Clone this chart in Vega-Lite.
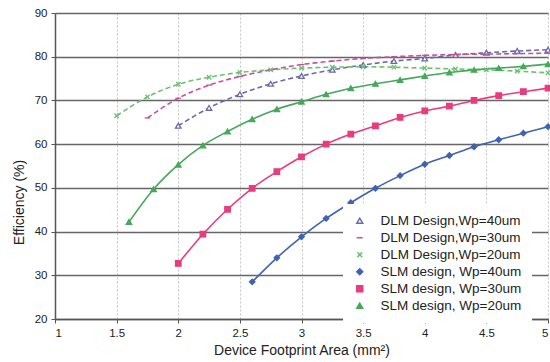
{
  "$schema": "https://vega.github.io/schema/vega-lite/v6.json",
  "width": 493,
  "height": 306,
  "autosize": {"type": "none"},
  "padding": {"left": 55, "top": 13, "right": 2, "bottom": 43},
  "background": "white",
  "config": {
    "font": "Liberation Sans",
    "view": {"stroke": null},
    "axis": {"labelFont": "Liberation Sans", "titleFont": "Liberation Sans", "labelColor": "#222", "titleColor": "#222"}
  },
  "data": {
    "values": [
      {"series": "DLM Design,Wp=40um", "design": "DLM", "x": 2.0, "y": 64.2},
      {"series": "DLM Design,Wp=40um", "design": "DLM", "x": 2.25, "y": 68.3},
      {"series": "DLM Design,Wp=40um", "design": "DLM", "x": 2.5, "y": 71.4},
      {"series": "DLM Design,Wp=40um", "design": "DLM", "x": 2.75, "y": 73.8},
      {"series": "DLM Design,Wp=40um", "design": "DLM", "x": 3.0, "y": 75.6},
      {"series": "DLM Design,Wp=40um", "design": "DLM", "x": 3.25, "y": 77.0},
      {"series": "DLM Design,Wp=40um", "design": "DLM", "x": 3.5, "y": 78.1},
      {"series": "DLM Design,Wp=40um", "design": "DLM", "x": 3.75, "y": 79.0},
      {"series": "DLM Design,Wp=40um", "design": "DLM", "x": 4.0, "y": 79.6},
      {"series": "DLM Design,Wp=40um", "design": "DLM", "x": 4.25, "y": 80.4},
      {"series": "DLM Design,Wp=40um", "design": "DLM", "x": 4.5, "y": 80.9},
      {"series": "DLM Design,Wp=40um", "design": "DLM", "x": 4.75, "y": 81.3},
      {"series": "DLM Design,Wp=40um", "design": "DLM", "x": 5.0, "y": 81.6},
      {"series": "DLM Design,Wp=30um", "design": "DLM", "x": 1.75, "y": 66.0},
      {"series": "DLM Design,Wp=30um", "design": "DLM", "x": 2.0, "y": 70.5},
      {"series": "DLM Design,Wp=30um", "design": "DLM", "x": 2.25, "y": 73.5},
      {"series": "DLM Design,Wp=30um", "design": "DLM", "x": 2.5, "y": 75.5},
      {"series": "DLM Design,Wp=30um", "design": "DLM", "x": 2.75, "y": 77.0},
      {"series": "DLM Design,Wp=30um", "design": "DLM", "x": 3.0, "y": 78.2},
      {"series": "DLM Design,Wp=30um", "design": "DLM", "x": 3.25, "y": 79.0},
      {"series": "DLM Design,Wp=30um", "design": "DLM", "x": 3.5, "y": 79.6},
      {"series": "DLM Design,Wp=30um", "design": "DLM", "x": 3.75, "y": 80.0},
      {"series": "DLM Design,Wp=30um", "design": "DLM", "x": 4.0, "y": 80.3},
      {"series": "DLM Design,Wp=30um", "design": "DLM", "x": 4.25, "y": 80.5},
      {"series": "DLM Design,Wp=30um", "design": "DLM", "x": 4.5, "y": 80.6},
      {"series": "DLM Design,Wp=30um", "design": "DLM", "x": 4.75, "y": 80.7},
      {"series": "DLM Design,Wp=30um", "design": "DLM", "x": 5.0, "y": 80.8},
      {"series": "DLM Design,Wp=20um", "design": "DLM", "x": 1.5, "y": 66.5},
      {"series": "DLM Design,Wp=20um", "design": "DLM", "x": 1.75, "y": 70.8},
      {"series": "DLM Design,Wp=20um", "design": "DLM", "x": 2.0, "y": 73.7},
      {"series": "DLM Design,Wp=20um", "design": "DLM", "x": 2.25, "y": 75.3},
      {"series": "DLM Design,Wp=20um", "design": "DLM", "x": 2.5, "y": 76.4},
      {"series": "DLM Design,Wp=20um", "design": "DLM", "x": 2.75, "y": 77.0},
      {"series": "DLM Design,Wp=20um", "design": "DLM", "x": 3.0, "y": 77.4},
      {"series": "DLM Design,Wp=20um", "design": "DLM", "x": 3.25, "y": 77.6},
      {"series": "DLM Design,Wp=20um", "design": "DLM", "x": 3.5, "y": 77.7},
      {"series": "DLM Design,Wp=20um", "design": "DLM", "x": 3.75, "y": 77.6},
      {"series": "DLM Design,Wp=20um", "design": "DLM", "x": 4.0, "y": 77.4},
      {"series": "DLM Design,Wp=20um", "design": "DLM", "x": 4.25, "y": 77.2},
      {"series": "DLM Design,Wp=20um", "design": "DLM", "x": 4.5, "y": 77.0},
      {"series": "DLM Design,Wp=20um", "design": "DLM", "x": 4.75, "y": 76.7},
      {"series": "DLM Design,Wp=20um", "design": "DLM", "x": 5.0, "y": 76.3},
      {"series": "SLM design, Wp=40um", "design": "SLM", "x": 2.6, "y": 28.5},
      {"series": "SLM design, Wp=40um", "design": "SLM", "x": 2.8, "y": 34.0},
      {"series": "SLM design, Wp=40um", "design": "SLM", "x": 3.0, "y": 38.8},
      {"series": "SLM design, Wp=40um", "design": "SLM", "x": 3.2, "y": 43.0},
      {"series": "SLM design, Wp=40um", "design": "SLM", "x": 3.4, "y": 46.6},
      {"series": "SLM design, Wp=40um", "design": "SLM", "x": 3.6, "y": 49.9},
      {"series": "SLM design, Wp=40um", "design": "SLM", "x": 3.8, "y": 52.8},
      {"series": "SLM design, Wp=40um", "design": "SLM", "x": 4.0, "y": 55.4},
      {"series": "SLM design, Wp=40um", "design": "SLM", "x": 4.2, "y": 57.4},
      {"series": "SLM design, Wp=40um", "design": "SLM", "x": 4.4, "y": 59.4},
      {"series": "SLM design, Wp=40um", "design": "SLM", "x": 4.6, "y": 61.0},
      {"series": "SLM design, Wp=40um", "design": "SLM", "x": 4.8, "y": 62.5},
      {"series": "SLM design, Wp=40um", "design": "SLM", "x": 5.0, "y": 64.0},
      {"series": "SLM design, Wp=30um", "design": "SLM", "x": 2.0, "y": 32.7},
      {"series": "SLM design, Wp=30um", "design": "SLM", "x": 2.2, "y": 39.4},
      {"series": "SLM design, Wp=30um", "design": "SLM", "x": 2.4, "y": 45.1},
      {"series": "SLM design, Wp=30um", "design": "SLM", "x": 2.6, "y": 49.9},
      {"series": "SLM design, Wp=30um", "design": "SLM", "x": 2.8, "y": 53.7},
      {"series": "SLM design, Wp=30um", "design": "SLM", "x": 3.0, "y": 57.1},
      {"series": "SLM design, Wp=30um", "design": "SLM", "x": 3.2, "y": 60.0},
      {"series": "SLM design, Wp=30um", "design": "SLM", "x": 3.4, "y": 62.3},
      {"series": "SLM design, Wp=30um", "design": "SLM", "x": 3.6, "y": 64.2},
      {"series": "SLM design, Wp=30um", "design": "SLM", "x": 3.8, "y": 66.1},
      {"series": "SLM design, Wp=30um", "design": "SLM", "x": 4.0, "y": 67.6},
      {"series": "SLM design, Wp=30um", "design": "SLM", "x": 4.2, "y": 68.7},
      {"series": "SLM design, Wp=30um", "design": "SLM", "x": 4.4, "y": 70.0},
      {"series": "SLM design, Wp=30um", "design": "SLM", "x": 4.6, "y": 71.1},
      {"series": "SLM design, Wp=30um", "design": "SLM", "x": 4.8, "y": 72.0},
      {"series": "SLM design, Wp=30um", "design": "SLM", "x": 5.0, "y": 72.8},
      {"series": "SLM design, Wp=20um", "design": "SLM", "x": 1.6, "y": 42.2},
      {"series": "SLM design, Wp=20um", "design": "SLM", "x": 1.8, "y": 49.7},
      {"series": "SLM design, Wp=20um", "design": "SLM", "x": 2.0, "y": 55.3},
      {"series": "SLM design, Wp=20um", "design": "SLM", "x": 2.2, "y": 59.7},
      {"series": "SLM design, Wp=20um", "design": "SLM", "x": 2.4, "y": 62.9},
      {"series": "SLM design, Wp=20um", "design": "SLM", "x": 2.6, "y": 65.7},
      {"series": "SLM design, Wp=20um", "design": "SLM", "x": 2.8, "y": 68.0},
      {"series": "SLM design, Wp=20um", "design": "SLM", "x": 3.0, "y": 69.7},
      {"series": "SLM design, Wp=20um", "design": "SLM", "x": 3.2, "y": 71.4},
      {"series": "SLM design, Wp=20um", "design": "SLM", "x": 3.4, "y": 72.8},
      {"series": "SLM design, Wp=20um", "design": "SLM", "x": 3.6, "y": 73.8},
      {"series": "SLM design, Wp=20um", "design": "SLM", "x": 3.8, "y": 74.7},
      {"series": "SLM design, Wp=20um", "design": "SLM", "x": 4.0, "y": 75.6},
      {"series": "SLM design, Wp=20um", "design": "SLM", "x": 4.2, "y": 76.4},
      {"series": "SLM design, Wp=20um", "design": "SLM", "x": 4.4, "y": 77.0},
      {"series": "SLM design, Wp=20um", "design": "SLM", "x": 4.6, "y": 77.4},
      {"series": "SLM design, Wp=20um", "design": "SLM", "x": 4.8, "y": 77.8},
      {"series": "SLM design, Wp=20um", "design": "SLM", "x": 5.0, "y": 78.3}
    ]
  },
  "encoding": {
    "x": {
      "field": "x", "type": "quantitative",
      "scale": {"domain": [1, 5], "nice": false},
      "axis": {
        "values": [1, 1.5, 2, 2.5, 3, 3.5, 4, 4.5, 5],
        "format": "~g",
        "title": "Device Footprint Area (mm²)",
        "titleFontSize": 14, "titleFontWeight": "normal", "titlePadding": 5,
        "labelFontSize": 11.5, "labelPadding": 4,
        "grid": true, "gridColor": "#c4c4c4", "gridDash": [2, 2], "gridWidth": 1,
        "domain": true, "domainColor": "#555", "domainWidth": 1.5,
        "ticks": true, "tickColor": "#555", "tickSize": 4
      }
    },
    "y": {
      "field": "y", "type": "quantitative",
      "scale": {"domain": [20, 90], "nice": false},
      "axis": {
        "values": [20, 30, 40, 50, 60, 70, 80, 90],
        "title": "Efficiency (%)",
        "titleFontSize": 14, "titleFontWeight": "normal",
        "titleX": -29, "titleY": 189, "titleBaseline": "bottom", "titleAnchor": "middle", "titleAlign": "center",
        "labelFontSize": 11.5, "labelPadding": 4,
        "grid": true, "gridColor": "#666", "gridWidth": 1.5,
        "domain": true, "domainColor": "#555", "domainWidth": 1.5,
        "ticks": true, "tickColor": "#555", "tickSize": 4
      }
    },
    "stroke": {
      "field": "series", "type": "nominal",
      "scale": {
        "domain": ["DLM Design,Wp=40um", "DLM Design,Wp=30um", "DLM Design,Wp=20um", "SLM design, Wp=40um", "SLM design, Wp=30um", "SLM design, Wp=20um"],
        "range": ["#6a6aa8", "#c8509a", "#6cc070", "#3f62b4", "#ea3b7c", "#45a85a"]
      },
      "legend": {
        "title": null, "orient": "none", "legendX": 288, "legendY": 191,
        "fillColor": "white", "padding": 10,
        "labelFontSize": 13.5, "labelColor": "#222", "labelOffset": 14,
        "rowPadding": 2, "symbolSize": 35, "symbolStrokeWidth": 1.5
      }
    }
  },
  "layer": [
    {
      "transform": [{"filter": "datum.design == 'DLM'"}],
      "mark": {"type": "line", "strokeDash": [5, 3], "strokeWidth": 1.6, "interpolate": "monotone"}
    },
    {
      "transform": [{"filter": "datum.design == 'SLM'"}],
      "mark": {"type": "line", "strokeWidth": 1.6, "interpolate": "monotone"}
    },
    {
      "mark": {"type": "point", "filled": true, "size": 30, "strokeWidth": 1.3, "opacity": 1},
      "encoding": {
        "shape": {
          "field": "series", "type": "nominal",
          "scale": {
            "domain": ["DLM Design,Wp=40um", "DLM Design,Wp=30um", "DLM Design,Wp=20um", "SLM design, Wp=40um", "SLM design, Wp=30um", "SLM design, Wp=20um"],
            "range": ["triangle-up", "M-1,0L1,0", "M-0.8,-0.8L0.8,0.8M-0.8,0.8L0.8,-0.8", "diamond", "square", "triangle-up"]
          }
        },
        "fill": {
          "field": "series", "type": "nominal",
          "scale": {
            "domain": ["DLM Design,Wp=40um", "DLM Design,Wp=30um", "DLM Design,Wp=20um", "SLM design, Wp=40um", "SLM design, Wp=30um", "SLM design, Wp=20um"],
            "range": ["#ffffff", "#ffffff", "#ffffff", "#3f62b4", "#ea3b7c", "#45a85a"]
          }
        }
      }
    }
  ]
}
